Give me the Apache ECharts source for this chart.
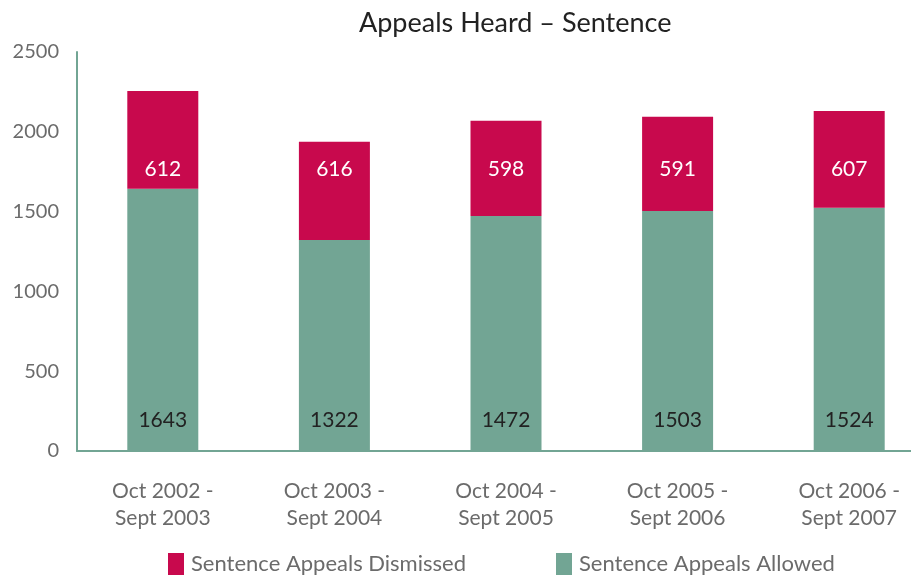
<!DOCTYPE html>
<html>
<head>
<meta charset="utf-8">
<script src="https://cdn.jsdelivr.net/npm/echarts@6/dist/echarts.min.js"></script>
<style>
  html, body { margin: 0; padding: 0; background: #fff; }
  #chart { width: 911px; height: 577px; }
</style>
</head>
<body>
<div id="chart"></div>
<script>
const periods = ['Oct 2002 -\nSept 2003', 'Oct 2003 -\nSept 2004', 'Oct 2004 -\nSept 2005', 'Oct 2005 -\nSept 2006', 'Oct 2006 -\nSept 2007']
const allowed = [1643, 1322, 1472, 1503, 1524]
const dismissed = [612, 616, 598, 591, 607]

const FONT = 'Lato, "Open Sans", sans-serif'
const RED = '#c8094d'
const GREEN = '#72a594'
// the dismissed labels all sit on one line, like in the original
const DISMISSED_LABEL_AT = 1765

const chart = echarts.init(document.getElementById('chart'))

function buildOption(dismissedData) {
  return {
    animation: false,
    textStyle: { fontFamily: FONT },
    title: {
      text: 'Appeals Heard – Sentence',
      left: 354, top: 5,
      textStyle: { fontFamily: FONT, fontSize: 27, fontWeight: 'normal', color: '#222' }
    },
    legend: {
      left: 163, top: 548,
      itemWidth: 16, itemHeight: 22, itemGap: 90,
      icon: 'rect',
      textStyle: { fontFamily: FONT, fontSize: 22, color: '#6b6b6b', padding: [0, 0, 0, 2] },
      data: ['Sentence Appeals Dismissed', 'Sentence Appeals Allowed']
    },
    grid: { left: 77, top: 52, width: 858, height: 399, outerBoundsMode: 'none', containLabel: false },
    xAxis: {
      type: 'category', data: periods,
      axisLine: { lineStyle: { color: GREEN, width: 2 } },
      axisTick: { show: false },
      axisLabel: { color: '#6b6b6b', fontSize: 21, lineHeight: 27, margin: 27, fontFamily: FONT }
    },
    yAxis: {
      type: 'value', min: 0, max: 2500, interval: 500,
      axisLine: { show: true, lineStyle: { color: GREEN, width: 2 } },
      axisTick: { show: false },
      splitLine: { show: false },
      axisLabel: { color: '#6b6b6b', fontSize: 20, margin: 18, fontFamily: FONT, formatter: v => String(v) }
    },
    series: [
      {
        name: 'Sentence Appeals Allowed',
        type: 'bar', stack: 'total', barWidth: 71,
        data: allowed,
        itemStyle: { color: GREEN },
        label: {
          show: true, position: 'insideBottom', distance: 20,
          color: '#222', fontSize: 21, fontFamily: FONT
        }
      },
      {
        name: 'Sentence Appeals Dismissed',
        type: 'bar', stack: 'total', barWidth: 71,
        data: dismissedData,
        itemStyle: { color: RED },
        label: {
          show: true, position: 'inside',
          color: '#fff', fontSize: 21, fontFamily: FONT
        }
      }
    ]
  }
}

chart.setOption(buildOption(dismissed))

// shift each dismissed label onto the common line
const yLine = chart.convertToPixel({ yAxisIndex: 0 }, DISMISSED_LABEL_AT)
const dismissedData = dismissed.map((v, i) => {
  const top = chart.convertToPixel({ yAxisIndex: 0 }, allowed[i] + v)
  const bot = chart.convertToPixel({ yAxisIndex: 0 }, allowed[i])
  return { value: v, label: { offset: [0, yLine - (top + bot) / 2] } }
})
chart.setOption(buildOption(dismissedData), { notMerge: true })
</script>
</body>
</html>
